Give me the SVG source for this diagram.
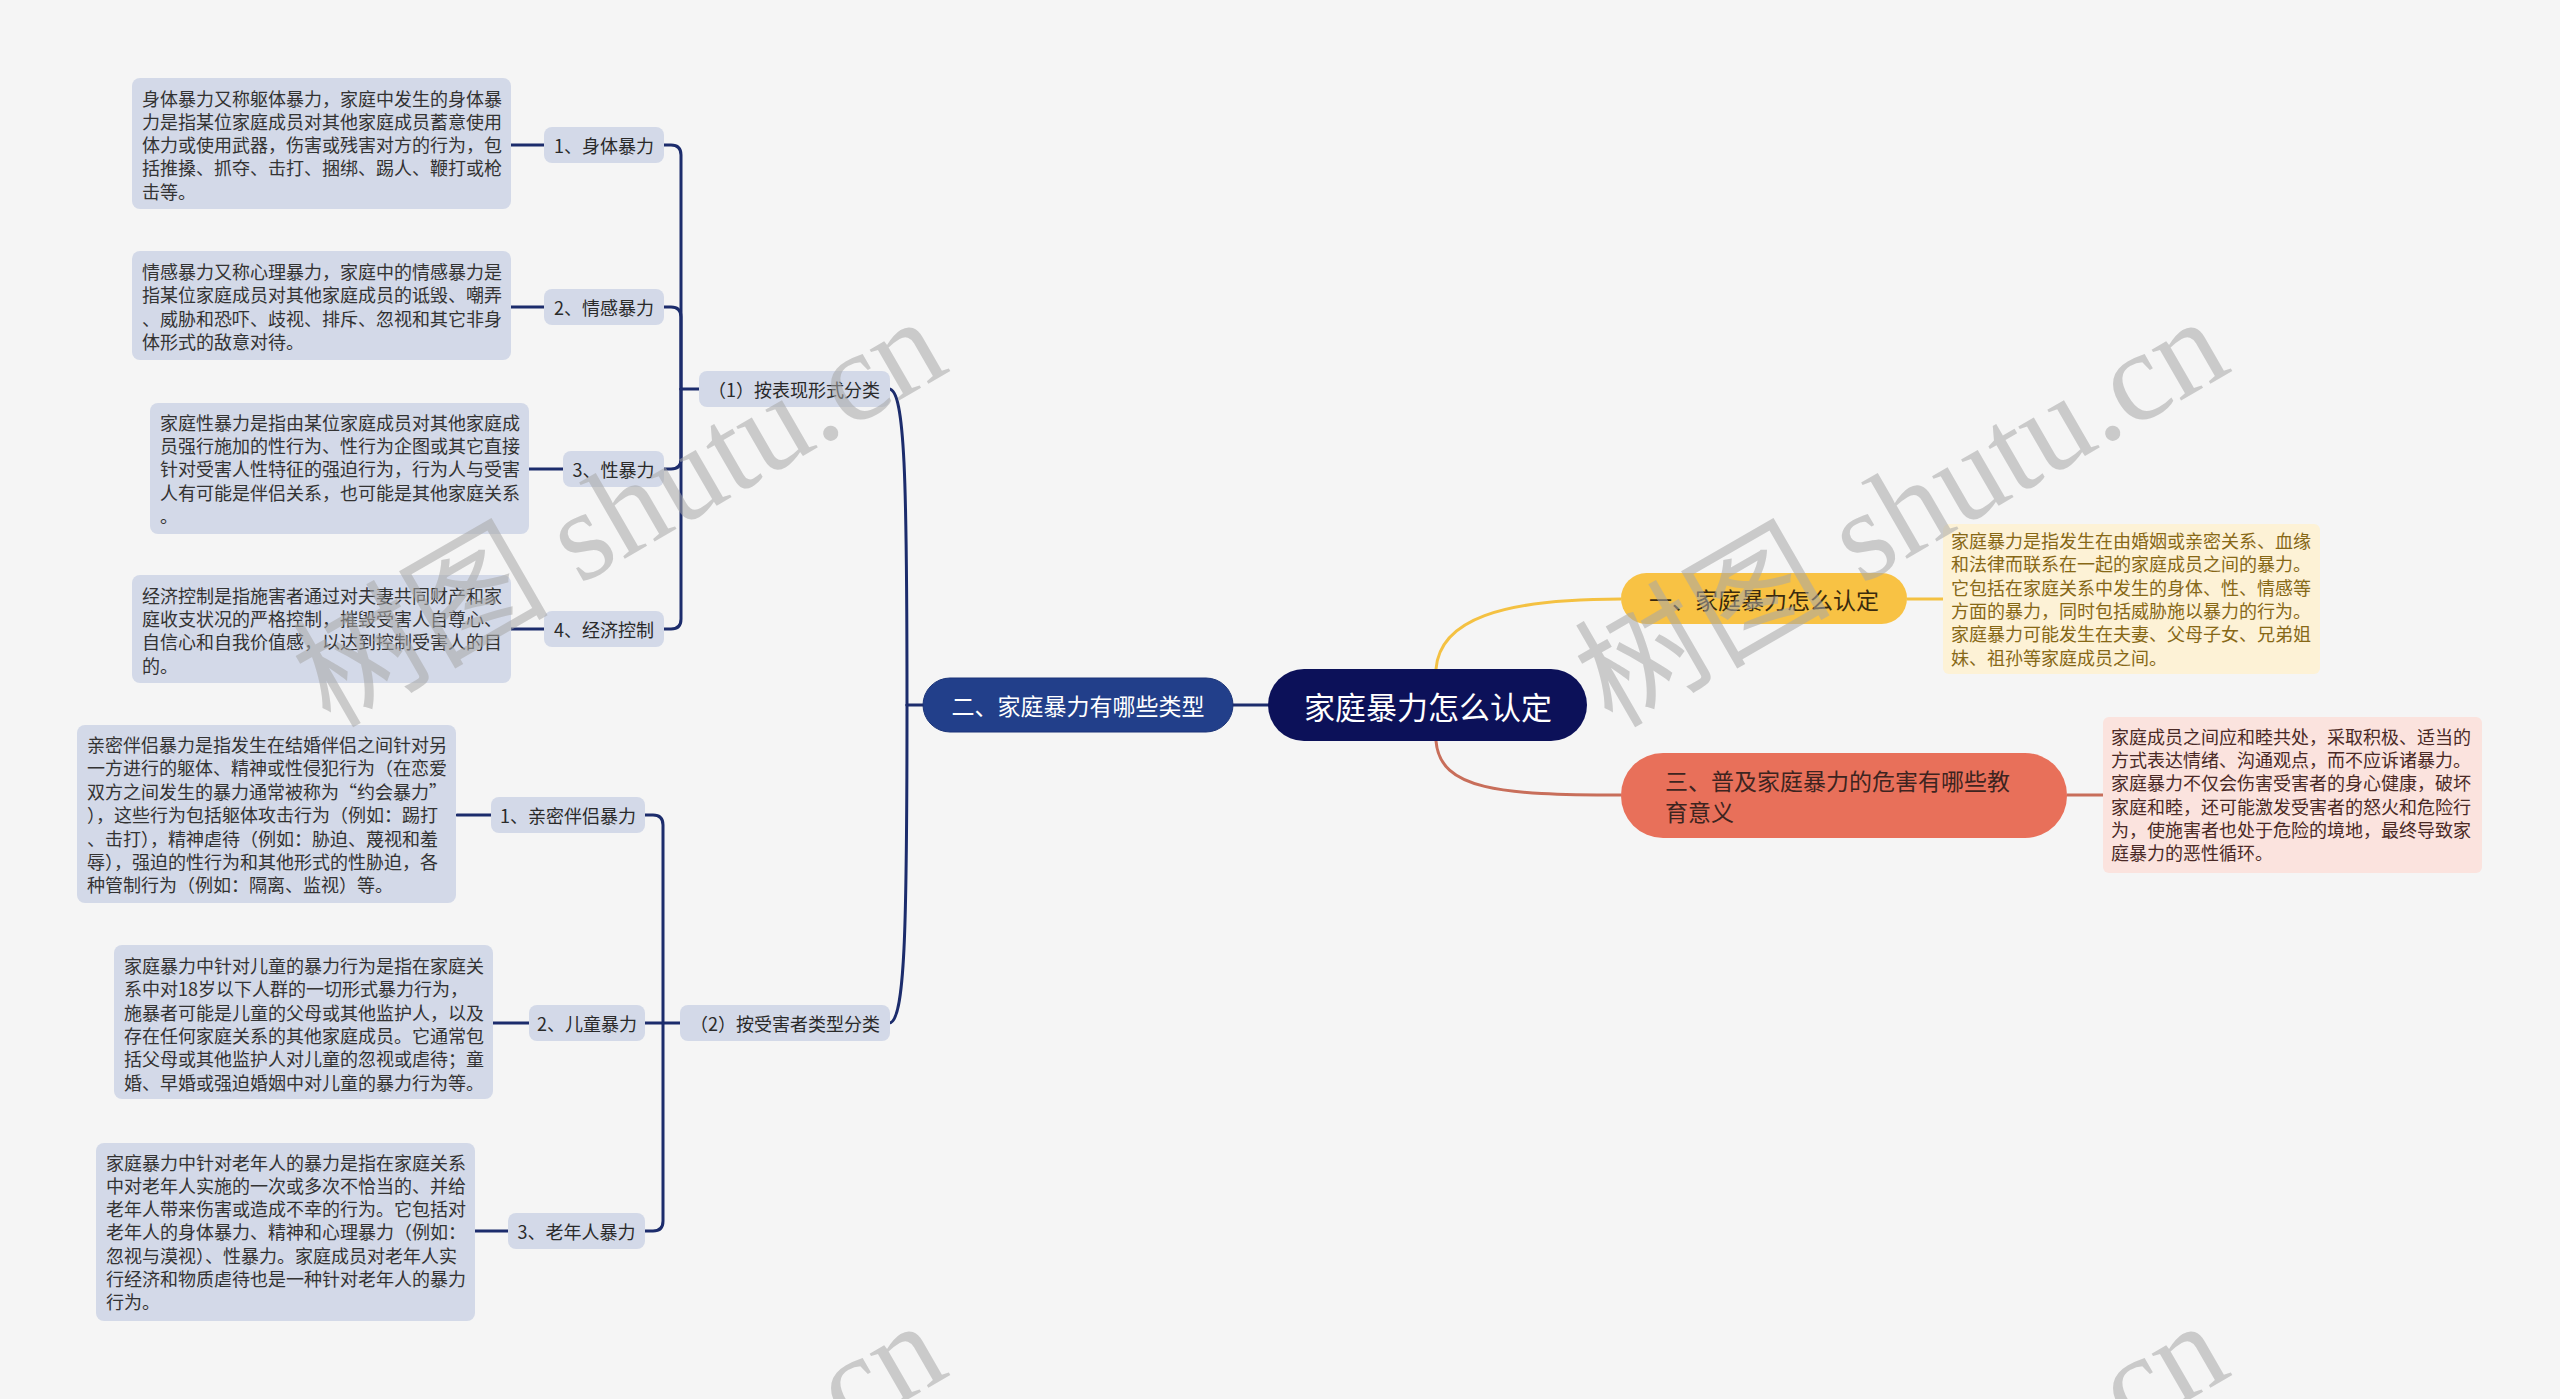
<svg xmlns="http://www.w3.org/2000/svg" width="2560" height="1399" viewBox="0 0 2560 1399">
<style>
text{font-family:"Noto Sans CJK SC","Noto Sans",sans-serif;}
.desc{fill:#d3d9e8;}
.dt{font-size:18px;fill:#333333;}
.sub{fill:#d3d9e8;}
.st{font-size:18px;fill:#2a2a2a;text-anchor:middle;dominant-baseline:central;}
.ln{fill:none;stroke:#1c2c6c;stroke-width:3;stroke-linecap:round;}
.wm{font-family:"Liberation Serif","Noto Sans CJK SC",serif;font-size:128px;fill:#a8a8a8;opacity:0.55;}
</style>
<rect x="0" y="0" width="2560" height="1399" fill="#f5f5f5"/>

<g id="connectors">
  <path class="ln" d="M1269,705 L1233,705"/>
  <path d="M1436,669 C1440,620 1500,599 1621,599" fill="none" stroke="#f4c142" stroke-width="3"/>
  <path d="M1436,741 C1440,790 1500,795 1621,795" fill="none" stroke="#c86e5a" stroke-width="3"/>
  <path d="M1907,599 L1943,599" fill="none" stroke="#f4c142" stroke-width="3"/>
  <path d="M2067,795 L2103,795" fill="none" stroke="#c86e5a" stroke-width="3"/>
  <path class="ln" d="M923,705 L907,705"/>
  <path class="ln" d="M907,705 C907,480 905,389 889,389"/>
  <path class="ln" d="M907,705 C907,930 905,1023 889,1023"/>
  <path class="ln" d="M699,389 L681,389"/>
  <path class="ln" d="M681,389 L681,155 Q681,145 671,145 L664,145"/>
  <path class="ln" d="M681,389 L681,317 Q681,307 671,307 L664,307"/>
  <path class="ln" d="M681,389 L681,459 Q681,469 671,469 L664,469"/>
  <path class="ln" d="M681,389 L681,619 Q681,629 671,629 L664,629"/>
  <path class="ln" d="M680,1023 L645,1023"/>
  <path class="ln" d="M663,1023 L663,825 Q663,815 653,815 L645,815"/>
  <path class="ln" d="M663,1023 L663,1221 Q663,1231 653,1231 L645,1231"/>
  <path class="ln" d="M511,145 L544,145"/>
  <path class="ln" d="M511,307 L544,307"/>
  <path class="ln" d="M529,469 L563,469"/>
  <path class="ln" d="M511,629 L544,629"/>
  <path class="ln" d="M457,815 L491,815"/>
  <path class="ln" d="M493,1023 L529,1023"/>
  <path class="ln" d="M475,1231 L508,1231"/>
</g>

<g id="root">
  <rect x="1268" y="669" width="319" height="72" rx="36" fill="#0c1159"/>
  <text x="1428" y="705" font-size="31" fill="#ffffff" text-anchor="middle" dominant-baseline="central">家庭暴力怎么认定</text>
</g>

<g id="branch-2">
  <rect x="923" y="678" width="310" height="54" rx="27" fill="#223f8a" stroke="#1a3378" stroke-width="1"/>
  <text x="1078" y="705" font-size="23" fill="#ffffff" text-anchor="middle" dominant-baseline="central">二、家庭暴力有哪些类型</text>
</g>

<g id="branch-1">
  <rect x="1621" y="573" width="286" height="51" rx="25.5" fill="#f8c244"/>
  <text x="1764" y="599" font-size="23" fill="#3a2a0e" text-anchor="middle" dominant-baseline="central">一、家庭暴力怎么认定</text>
</g>

<g id="branch-1-desc">
  <rect x="1943" y="524" width="377" height="150" rx="6" fill="#fdf2d6"/>
  <text class="dt" x="1951" y="540" dominant-baseline="central" style="fill:#876816">
    <tspan x="1951">家庭暴力是指发生在由婚姻或亲密关系、血缘</tspan>
    <tspan x="1951" dy="23.3">和法律而联系在一起的家庭成员之间的暴力。</tspan>
    <tspan x="1951" dy="23.3">它包括在家庭关系中发生的身体、性、情感等</tspan>
    <tspan x="1951" dy="23.3">方面的暴力，同时包括威胁施以暴力的行为。</tspan>
    <tspan x="1951" dy="23.3">家庭暴力可能发生在夫妻、父母子女、兄弟姐</tspan>
    <tspan x="1951" dy="23.3">妹、祖孙等家庭成员之间。</tspan>
  </text>
</g>

<g id="branch-3">
  <rect x="1621" y="753" width="446" height="85" rx="42" fill="#e8705a"/>
  <text x="1665" y="780" font-size="23" fill="#3d2420" dominant-baseline="central">三、普及家庭暴力的危害有哪些教</text>
  <text x="1665" y="811" font-size="23" fill="#3d2420" dominant-baseline="central">育意义</text>
</g>

<g id="branch-3-desc">
  <rect x="2103" y="717" width="379" height="156" rx="6" fill="#fbe3de"/>
  <text class="dt" x="2111" y="736" dominant-baseline="central" style="fill:#4a2a26">
    <tspan x="2111">家庭成员之间应和睦共处，采取积极、适当的</tspan>
    <tspan x="2111" dy="23.2">方式表达情绪、沟通观点，而不应诉诸暴力。</tspan>
    <tspan x="2111" dy="23.2">家庭暴力不仅会伤害受害者的身心健康，破坏</tspan>
    <tspan x="2111" dy="23.2">家庭和睦，还可能激发受害者的怒火和危险行</tspan>
    <tspan x="2111" dy="23.2">为，使施害者也处于危险的境地，最终导致家</tspan>
    <tspan x="2111" dy="23.2">庭暴力的恶性循环。</tspan>
  </text>
</g>

<g id="cat-1">
  <rect class="sub" x="699" y="371" width="191" height="36" rx="8"/>
  <text class="st" x="794" y="389">（1）按表现形式分类</text>
</g>
<g id="cat-2">
  <rect class="sub" x="680" y="1005" width="210" height="36" rx="8"/>
  <text class="st" x="785" y="1023">（2）按受害者类型分类</text>
</g>

<g id="leaf-1-1">
  <rect class="sub" x="544" y="127" width="120" height="36" rx="8"/>
  <text class="st" x="604" y="145">1、身体暴力</text>
</g>
<g id="leaf-1-2">
  <rect class="sub" x="544" y="289" width="120" height="36" rx="8"/>
  <text class="st" x="604" y="307">2、情感暴力</text>
</g>
<g id="leaf-1-3">
  <rect class="sub" x="563" y="451" width="101" height="36" rx="8"/>
  <text class="st" x="613.5" y="469">3、性暴力</text>
</g>
<g id="leaf-1-4">
  <rect class="sub" x="544" y="611" width="120" height="36" rx="8"/>
  <text class="st" x="604" y="629">4、经济控制</text>
</g>
<g id="leaf-2-1">
  <rect class="sub" x="491" y="797" width="154" height="36" rx="8"/>
  <text class="st" x="568" y="815">1、亲密伴侣暴力</text>
</g>
<g id="leaf-2-2">
  <rect class="sub" x="529" y="1005" width="116" height="36" rx="8"/>
  <text class="st" x="587" y="1023">2、儿童暴力</text>
</g>
<g id="leaf-2-3">
  <rect class="sub" x="508" y="1213" width="137" height="36" rx="8"/>
  <text class="st" x="576.5" y="1231">3、老年人暴力</text>
</g>

<g id="desc-1-1">
  <rect class="desc" x="132" y="78" width="379" height="131" rx="8"/>
  <text class="dt" x="142" y="97.5" dominant-baseline="central">
    <tspan x="142">身体暴力又称躯体暴力，家庭中发生的身体暴</tspan>
    <tspan x="142" dy="23.3">力是指某位家庭成员对其他家庭成员蓄意使用</tspan>
    <tspan x="142" dy="23.3">体力或使用武器，伤害或残害对方的行为，包</tspan>
    <tspan x="142" dy="23.3">括推搡、抓夺、击打、捆绑、踢人、鞭打或枪</tspan>
    <tspan x="142" dy="23.3">击等。</tspan>
  </text>
</g>
<g id="desc-1-2">
  <rect class="desc" x="132" y="251" width="379" height="109" rx="8"/>
  <text class="dt" x="142" y="271" dominant-baseline="central">
    <tspan x="142">情感暴力又称心理暴力，家庭中的情感暴力是</tspan>
    <tspan x="142" dy="23.3">指某位家庭成员对其他家庭成员的诋毁、嘲弄</tspan>
    <tspan x="142" dy="23.3">、威胁和恐吓、歧视、排斥、忽视和其它非身</tspan>
    <tspan x="142" dy="23.3">体形式的敌意对待。</tspan>
  </text>
</g>
<g id="desc-1-3">
  <rect class="desc" x="150" y="403" width="379" height="131" rx="8"/>
  <text class="dt" x="160" y="421.5" dominant-baseline="central">
    <tspan x="160">家庭性暴力是指由某位家庭成员对其他家庭成</tspan>
    <tspan x="160" dy="23.4">员强行施加的性行为、性行为企图或其它直接</tspan>
    <tspan x="160" dy="23.4">针对受害人性特征的强迫行为，行为人与受害</tspan>
    <tspan x="160" dy="23.4">人有可能是伴侣关系，也可能是其他家庭关系</tspan>
    <tspan x="160" dy="23.4">。</tspan>
  </text>
</g>
<g id="desc-1-4">
  <rect class="desc" x="132" y="575" width="379" height="108" rx="8"/>
  <text class="dt" x="142" y="594.5" dominant-baseline="central">
    <tspan x="142">经济控制是指施害者通过对夫妻共同财产和家</tspan>
    <tspan x="142" dy="23.4">庭收支状况的严格控制，摧毁受害人自尊心、</tspan>
    <tspan x="142" dy="23.4">自信心和自我价值感，以达到控制受害人的目</tspan>
    <tspan x="142" dy="23.4">的。</tspan>
  </text>
</g>
<g id="desc-2-1">
  <rect class="desc" x="77" y="725" width="379" height="178" rx="8"/>
  <text class="dt" x="87" y="744" dominant-baseline="central">
    <tspan x="87">亲密伴侣暴力是指发生在结婚伴侣之间针对另</tspan>
    <tspan x="87" dy="23.4">一方进行的躯体、精神或性侵犯行为（在恋爱</tspan>
    <tspan x="87" dy="23.4">双方之间发生的暴力通常被称为“约会暴力”</tspan>
    <tspan x="87" dy="23.4">），这些行为包括躯体攻击行为（例如：踢打</tspan>
    <tspan x="87" dy="23.4">、击打），精神虐待（例如：胁迫、蔑视和羞</tspan>
    <tspan x="87" dy="23.4">辱），强迫的性行为和其他形式的性胁迫，各</tspan>
    <tspan x="87" dy="23.4">种管制行为（例如：隔离、监视）等。</tspan>
  </text>
</g>
<g id="desc-2-2">
  <rect class="desc" x="114" y="945" width="379" height="154" rx="8"/>
  <text class="dt" x="124" y="965" dominant-baseline="central">
    <tspan x="124">家庭暴力中针对儿童的暴力行为是指在家庭关</tspan>
    <tspan x="124" dy="23.3">系中对18岁以下人群的一切形式暴力行为，</tspan>
    <tspan x="124" dy="23.3">施暴者可能是儿童的父母或其他监护人，以及</tspan>
    <tspan x="124" dy="23.3">存在任何家庭关系的其他家庭成员。它通常包</tspan>
    <tspan x="124" dy="23.3">括父母或其他监护人对儿童的忽视或虐待；童</tspan>
    <tspan x="124" dy="23.3">婚、早婚或强迫婚姻中对儿童的暴力行为等。</tspan>
  </text>
</g>
<g id="desc-2-3">
  <rect class="desc" x="96" y="1143" width="379" height="178" rx="8"/>
  <text class="dt" x="106" y="1161.5" dominant-baseline="central">
    <tspan x="106">家庭暴力中针对老年人的暴力是指在家庭关系</tspan>
    <tspan x="106" dy="23.3">中对老年人实施的一次或多次不恰当的、并给</tspan>
    <tspan x="106" dy="23.3">老年人带来伤害或造成不幸的行为。它包括对</tspan>
    <tspan x="106" dy="23.3">老年人的身体暴力、精神和心理暴力（例如：</tspan>
    <tspan x="106" dy="23.3">忽视与漠视）、性暴力。家庭成员对老年人实</tspan>
    <tspan x="106" dy="23.3">行经济和物质虐待也是一种针对老年人的暴力</tspan>
    <tspan x="106" dy="23.3">行为。</tspan>
  </text>
</g>

<g id="watermark">
  <text class="wm" transform="translate(330,729) rotate(-30)">树图 shutu.cn</text>
  <text class="wm" transform="translate(1612,729) rotate(-30)">树图 shutu.cn</text>
  <text class="wm" transform="translate(330,1733) rotate(-30)">树图 shutu.cn</text>
  <text class="wm" transform="translate(1612,1733) rotate(-30)">树图 shutu.cn</text>
</g>
</svg>
